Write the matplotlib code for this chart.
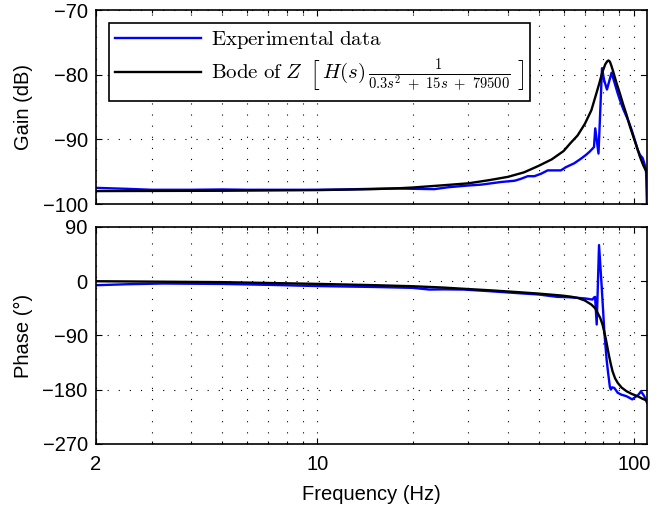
import numpy as np
import matplotlib
matplotlib.use("Agg")
import matplotlib.pyplot as plt
from matplotlib.ticker import FixedLocator, NullFormatter

plt.rcParams["font.family"] = ["Liberation Sans", "DejaVu Sans"]
plt.rcParams["mathtext.fontset"] = "cm"

# gain (dB)
FREQ_GAIN_EXP = [2, 2.5, 3, 4, 5, 6, 8, 10, 12, 15, 18, 20, 23.4, 26, 29.8, 33, 38, 42, 44,
                 46.2, 48.5, 51, 53.4, 56, 58.8, 61, 64.8, 68, 70.6, 72.5, 74.8, 75.5, 77.3,
                 79.3, 80.5, 82.2, 85.0, 86.7, 88.9, 90.3, 92.5, 94.8, 96.5, 98.3, 100.5,
                 102.8, 104.5, 106.6, 108, 109.2, 110]
GAIN_EXP = [-97.5, -97.65, -97.8, -97.8, -97.75, -97.8, -97.8, -97.8, -97.75, -97.65, -97.6,
            -97.65, -97.7, -97.4, -97.15, -97.0, -96.6, -96.4, -96.1, -95.7, -95.7, -95.3,
            -94.8, -94.8, -94.8, -94.3, -93.7, -93.0, -92.4, -91.9, -91.2, -88.3, -92.2,
            -79.0, -80.8, -82.3, -79.7, -81.1, -82.9, -83.9, -85.3, -86.5, -87.4, -88.5,
            -90.0, -91.6, -92.4, -92.9, -93.8, -94.7, -100.5]

FREQ_GAIN_MOD = [2, 5, 10, 15, 18.3, 20, 25, 30, 35, 40, 45, 50, 55, 60, 63, 66.4, 70, 73.4,
                 76, 77.8, 79.5, 81.2, 82.3, 83.1, 84, 85, 86, 88, 90.3, 92.5, 94.8, 97,
                 99.6, 102, 104.5, 107, 110]
GAIN_MOD = [-98.0, -97.95, -97.85, -97.7, -97.55, -97.45, -97.1, -96.8, -96.3, -95.8, -95.1,
            -94.1, -93.1, -91.8, -90.6, -89.4, -87.6, -85.5, -83.0, -81.3, -79.6, -78.4,
            -77.95, -77.8, -78.0, -78.7, -79.5, -81.2, -82.9, -84.6, -86.2, -87.9, -89.6,
            -91.1, -92.7, -94.0, -95.2]

# phase (deg)
FREQ_PHASE_EXP = [2, 2.5, 3.25, 5, 7, 10, 15, 20, 22.6, 25, 28.9, 35, 41.7, 50, 57.2, 62, 66,
                  70, 74, 74.8, 75.4, 76.3, 77.6, 79.1, 80.7, 82.0, 82.9, 84.0, 84.6, 85.3,
                  86.7, 88.9, 91.1, 94.8, 98.8, 101, 102.8, 104.5, 105.3, 107.9, 110]
PHASE_EXP = [-6.6, -5, -3.8, -4.5, -6, -8.0, -9.5, -11, -13.8, -13.5, -13.8, -16.5, -19.3,
             -22, -25.9, -26.5, -27.5, -28.5, -30.4, -27, -26, -71.8, 60, -8.3, -85.6, -130,
             -152, -176, -179.7, -176, -177, -185, -188, -190.8, -196, -192, -189.6, -185,
             -182.5, -191, -201.7]

FREQ_PHASE_MOD = [2, 5, 10, 15, 20, 25, 28.9, 35, 41.7, 50, 59, 63, 66.4, 70, 73.4, 75.5,
                  76.8, 78.3, 79.6, 80.6, 81.6, 82.5, 83.5, 84.5, 85.6, 87.2, 88.9, 91.5,
                  94.8, 98.5, 102.8, 106.5, 110]
PHASE_MOD = [0, -1.5, -4.4, -6.5, -8.3, -10.5, -12.5, -15, -17.6, -20.5, -23.7, -25.5, -27.6,
             -32, -38.7, -45, -52.5, -61, -71.8, -84, -96.7, -110, -124.4, -137, -149.3,
             -161, -168.6, -176.5, -182.5, -187, -190.8, -195, -198]

LABEL_EXP = r"$\mathrm{Experimental\ data}$"
LABEL_MOD = (r"$\mathrm{Bode\ of\ }Z\ \,\left[\,H(s)\,"
             r"\frac{1}{0.3s^2\ +\ 15s\ +\ 79500}\,\,\right]$")

MINOR_X = [3, 4, 5, 6, 7, 8, 9, 20, 30, 40, 50, 60, 70, 80, 90]
FS = 14.5
LW = 1.7


def style_axis(ax, yticks):
    ax.set_xscale("log")
    ax.set_xlim(2, 110)
    ax.set_ylim(yticks[0], yticks[-1])
    ax.set_yticks(yticks)
    ax.xaxis.set_major_locator(FixedLocator([2, 10, 100]))
    ax.xaxis.set_minor_locator(FixedLocator(MINOR_X))
    ax.xaxis.set_minor_formatter(NullFormatter())
    ax.tick_params(which="both", direction="in", top=True, right=True, labelsize=FS)
    ax.tick_params(which="major", length=4, width=0.8)
    ax.tick_params(which="minor", length=2.5, width=0.8)
    ax.tick_params(axis="y", pad=6)
    ax.tick_params(axis="x", pad=8)
    for s in ax.spines.values():
        s.set_linewidth(1.2)
    grid_kw = dict(color="black", linestyle=(0, (1, 9)), linewidth=0.8)
    ax.grid(True, which="major", **grid_kw)
    ax.grid(True, which="minor", axis="x", **grid_kw)


fig = plt.figure(figsize=(6.72, 5.08), dpi=100)
ax1 = fig.add_axes([0.1429, 0.5984, 0.8199, 0.3819])
ax2 = fig.add_axes([0.1429, 0.1260, 0.8199, 0.4272])

ax1.plot(FREQ_GAIN_EXP, GAIN_EXP, color="blue", lw=LW, label=LABEL_EXP)
ax1.plot(FREQ_GAIN_MOD, GAIN_MOD, color="black", lw=LW, label=LABEL_MOD)
style_axis(ax1, [-100, -90, -80, -70])
ax1.set_xticklabels([])
ax1.set_ylabel("Gain (dB)", fontsize=FS, labelpad=7)

leg = ax1.legend(loc="upper left", bbox_to_anchor=(0.0236, 0.933), borderaxespad=0,
                 prop={"size": 15}, fancybox=False, framealpha=1, edgecolor="black",
                 handlelength=4.1, handletextpad=0.5, labelspacing=0.3, borderpad=0.3)
leg.get_frame().set_linewidth(1.2)

ax2.plot(FREQ_PHASE_EXP, PHASE_EXP, color="blue", lw=LW)
ax2.plot(FREQ_PHASE_MOD, PHASE_MOD, color="black", lw=LW)
style_axis(ax2, [-270, -180, -90, 0, 90])
ax2.set_xticklabels(["2", "10", "100"])
ax2.set_ylabel("Phase (°)", fontsize=FS, labelpad=7)
ax2.set_xlabel("Frequency (Hz)", fontsize=FS, labelpad=8)

fig.align_ylabels([ax1, ax2])
fig.savefig("out.png", dpi=100)
